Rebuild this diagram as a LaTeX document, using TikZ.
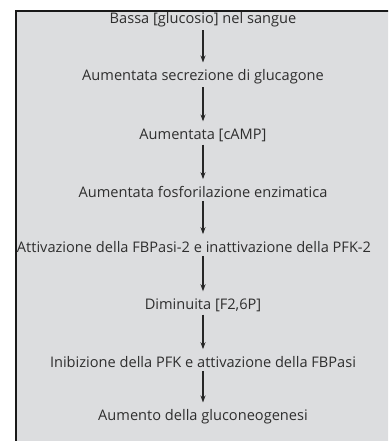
\documentclass[tikz,border=0pt]{standalone}
\usepackage{fontspec}
\setmainfont{Open Sans}
\usetikzlibrary{arrows.meta}
\definecolor{panelgray}{HTML}{DCDDDF}
\definecolor{inkgray}{HTML}{2E2E2E}
\begin{document}
\begin{tikzpicture}[x=1pt,y=-1pt,
  stepnode/.style={inner sep=0pt, text=inkgray, font=\fontsize{14.6}{17}\selectfont},
  flow/.style={-{Stealth[length=7pt,width=5pt]}, line width=1.2pt, black!85}]
  \useasboundingbox (0,0) rectangle (388,441);
  \clip (0,0) rectangle (388,441);
  % shaded panel with its top and left borders
  \fill[panelgray] (16,11) rectangle (392,445);
  \draw[line width=2.2pt, black!90] (16,445) -- (16,11) -- (392,11);
  % arrow axis
  \coordinate (axis) at (203,0);
  % steps
  \node[stepnode] (s1) at (203,20)  {Bassa [glucosio] nel sangue};
  \node[stepnode] (s2) at (203,77)  {Aumentata secrezione di glucagone};
  \node[stepnode] (s3) at (203,135) {Aumentata [cAMP]};
  \node[stepnode] (s4) at (203,192) {Aumentata fosforilazione enzimatica};
  \node[stepnode] (s5) at (194,247) {Attivazione della FBPasi-2 e inattivazione della PFK-2};
  \node[stepnode] (s6) at (203,305) {Diminuita [F2,6P]};
  \node[stepnode] (s7) at (203,362) {Inibizione della PFK e attivazione della FBPasi};
  \node[stepnode] (s8) at (203,417) {Aumento della gluconeogenesi};
  % connectors
  \foreach \a/\b in {s1/s2,s2/s3,s3/s4,s4/s5,s5/s6,s6/s7,s7/s8}
    \draw[flow, shorten <=3pt, shorten >=7pt] (\a.south -| axis) -- (\b.north -| axis);
\end{tikzpicture}
\end{document}
